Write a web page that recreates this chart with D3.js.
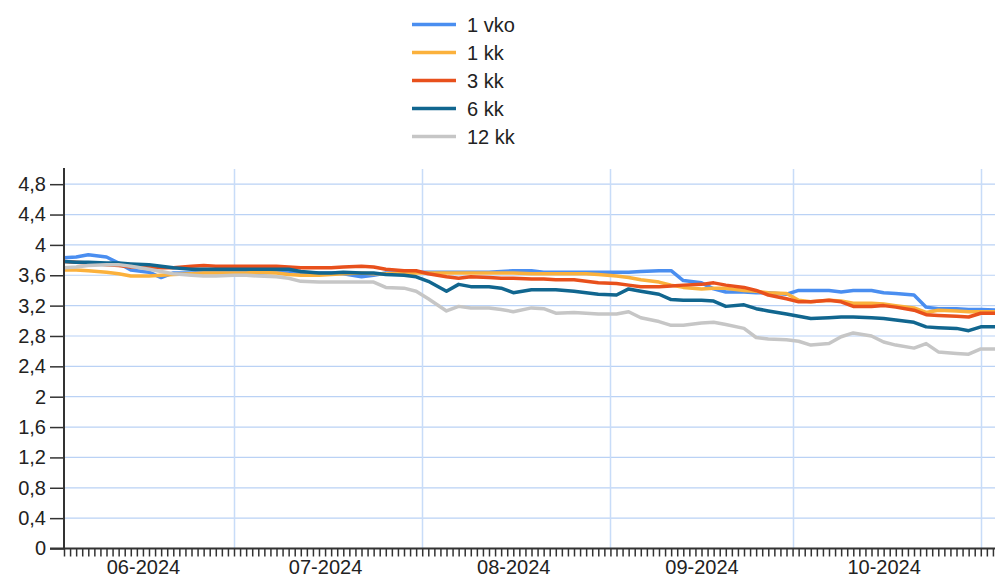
<!DOCTYPE html>
<html>
<head>
<meta charset="utf-8">
<script src="https://cdn.jsdelivr.net/npm/d3@7"></script>
<style>
  html, body { margin: 0; padding: 0; background: #fff; }
  svg { display: block; font-family: "Liberation Sans", Arial, sans-serif; }
</style>
</head>
<body>
<div id="chart"></div>
<script>
// Euribor-korot, päivittäin (luettu kuvasta)
const dates = [
  "2024-06-03","2024-06-05","2024-06-07","2024-06-10","2024-06-12","2024-06-14",
  "2024-06-17","2024-06-19","2024-06-21","2024-06-24","2024-06-26","2024-06-28",
  "2024-07-01","2024-07-03","2024-07-05","2024-07-08","2024-07-10","2024-07-12",
  "2024-07-15","2024-07-17","2024-07-19","2024-07-22","2024-07-24","2024-07-26",
  "2024-07-29","2024-07-31","2024-08-02","2024-08-05","2024-08-07","2024-08-09",
  "2024-08-12","2024-08-14","2024-08-16","2024-08-19","2024-08-21","2024-08-23",
  "2024-08-26","2024-08-28","2024-08-30","2024-09-02","2024-09-04","2024-09-06",
  "2024-09-09","2024-09-11","2024-09-13","2024-09-16","2024-09-18","2024-09-20",
  "2024-09-23","2024-09-25","2024-09-27","2024-09-30","2024-10-02","2024-10-04",
  "2024-10-07","2024-10-09","2024-10-11","2024-10-14","2024-10-16","2024-10-18",
  "2024-10-21","2024-10-23","2024-10-25","2024-10-28","2024-10-30","2024-11-01",
  "2024-11-04"
];

const vko1 = [
  3.83,3.84,3.87,3.84,3.76,3.67,
  3.64,3.57,3.63,3.63,3.64,3.64,
  3.64,3.64,3.63,3.64,3.64,3.63,
  3.63,3.63,3.62,3.58,3.60,3.63,
  3.63,3.64,3.64,3.64,3.64,3.64,
  3.64,3.65,3.66,3.66,3.64,3.64,
  3.64,3.64,3.64,3.64,3.64,3.65,
  3.66,3.66,3.53,3.50,3.42,3.38,
  3.38,3.37,3.37,3.35,3.40,3.40,
  3.40,3.38,3.40,3.40,3.37,3.36,
  3.34,3.18,3.16,3.16,3.15,3.15,
  3.14
];

const kk1 = [
  3.67,3.67,3.66,3.64,3.62,3.59,
  3.59,3.60,3.61,3.62,3.63,3.63,
  3.63,3.63,3.64,3.63,3.61,3.60,
  3.60,3.61,3.62,3.63,3.62,3.62,
  3.62,3.63,3.63,3.63,3.63,3.63,
  3.63,3.63,3.63,3.62,3.62,3.62,
  3.62,3.62,3.61,3.59,3.57,3.54,
  3.51,3.47,3.44,3.42,3.43,3.43,
  3.40,3.39,3.37,3.36,3.27,3.25,
  3.27,3.26,3.23,3.23,3.22,3.20,
  3.17,3.11,3.14,3.13,3.12,3.12,
  3.12
];

const kk3 = [
  3.78,3.77,3.76,3.74,3.73,3.71,
  3.71,3.70,3.70,3.72,3.73,3.72,
  3.72,3.72,3.72,3.72,3.71,3.70,
  3.70,3.70,3.71,3.72,3.71,3.68,
  3.66,3.66,3.62,3.58,3.56,3.58,
  3.57,3.56,3.56,3.55,3.55,3.54,
  3.54,3.52,3.50,3.49,3.47,3.45,
  3.45,3.46,3.47,3.48,3.50,3.47,
  3.44,3.40,3.34,3.29,3.25,3.25,
  3.27,3.25,3.19,3.19,3.20,3.18,
  3.14,3.08,3.07,3.06,3.05,3.10,
  3.10
];

const kk6 = [
  3.78,3.77,3.77,3.76,3.76,3.75,
  3.74,3.72,3.70,3.68,3.68,3.68,
  3.68,3.68,3.68,3.68,3.68,3.65,
  3.63,3.63,3.64,3.63,3.63,3.61,
  3.60,3.58,3.52,3.39,3.48,3.45,
  3.45,3.43,3.37,3.41,3.41,3.41,
  3.39,3.37,3.35,3.34,3.42,3.39,
  3.35,3.28,3.27,3.27,3.26,3.19,
  3.21,3.16,3.13,3.09,3.06,3.03,
  3.04,3.05,3.05,3.04,3.03,3.01,
  2.98,2.92,2.91,2.90,2.87,2.92,
  2.92
];

const kk12 = [
  3.70,3.71,3.73,3.74,3.74,3.72,
  3.68,3.65,3.62,3.60,3.59,3.59,
  3.60,3.60,3.59,3.58,3.56,3.52,
  3.51,3.51,3.51,3.51,3.51,3.44,
  3.43,3.39,3.29,3.13,3.19,3.17,
  3.17,3.15,3.12,3.17,3.16,3.10,
  3.11,3.10,3.09,3.09,3.12,3.04,
  2.99,2.94,2.94,2.97,2.98,2.95,
  2.90,2.78,2.76,2.75,2.73,2.68,
  2.70,2.79,2.84,2.80,2.72,2.68,
  2.64,2.70,2.59,2.57,2.56,2.63,
  2.63
];

const seriesNames = ["1 vko", "1 kk", "3 kk", "6 kk", "12 kk"];
const seriesColors = ["#4a8ef0", "#fbb13c", "#e8501c", "#11668f", "#c6c6c6"];
const yTicks = [0, 0.4, 0.8, 1.2, 1.6, 2, 2.4, 2.8, 3.2, 3.6, 4, 4.4, 4.8];
const monthStarts = ["2024-06-01","2024-07-01","2024-08-01","2024-09-01","2024-10-01","2024-11-01"];

const W = 995, H = 578;
const parse = d3.timeParse("%Y-%m-%d");
const dd = dates.map(parse);
const allSeries = [vko1, kk1, kk3, kk6, kk12];

const plotLeft = 64, plotTop = 169, plotBottom = 548.5;

const x = d3.scaleTime()
  .domain([parse("2024-06-03"), parse("2024-11-04")])
  .range([plotLeft, 999]);
const y = d3.scaleLinear().domain([0, 5]).range([plotBottom, plotTop]);

const fi = d3.formatLocale({ decimal: ",", thousands: " ", grouping: [3], currency: ["", " €"] });

const svg = d3.select("#chart").append("svg")
  .attr("width", W).attr("height", H);

svg.append("defs").append("clipPath").attr("id", "plot")
  .append("rect").attr("x", plotLeft).attr("y", plotTop)
  .attr("width", W - plotLeft).attr("height", plotBottom - plotTop);

// gridlines
const grid = svg.append("g");
grid.selectAll("line.h")
  .data(yTicks.filter(d => d > 0))
  .enter().append("line")
  .attr("x1", plotLeft).attr("x2", W)
  .attr("y1", d => y(d)).attr("y2", d => y(d))
  .attr("stroke", "#bad2f5").attr("stroke-width", 1.2);

grid.selectAll("line.v")
  .data(monthStarts.map(parse).filter(d => d > x.domain()[0]))
  .enter().append("line")
  .attr("x1", d => Math.round(x(d)) + 0.5).attr("x2", d => Math.round(x(d)) + 0.5)
  .attr("y1", plotTop).attr("y2", plotBottom)
  .attr("stroke", "#c8dcf8").attr("stroke-width", 1.5);

// series
const line = d3.line()
  .x((d, i) => x(dd[i]))
  .y(d => y(d));

svg.append("g").attr("clip-path", "url(#plot)")
  .selectAll("path")
  .data(allSeries)
  .enter().append("path")
  .attr("d", d => line(d))
  .attr("fill", "none")
  .attr("stroke", (d, i) => seriesColors[i])
  .attr("stroke-width", 3.5)
  .attr("stroke-linejoin", "round");

// y axis
const yAxis = svg.append("g")
  .attr("transform", "translate(" + plotLeft + ",0)")
  .call(d3.axisLeft(y).tickValues(yTicks).tickSize(14).tickPadding(4).tickFormat(fi.format(".1~f")));
yAxis.select(".domain").attr("d", "M0," + (plotTop - 1) + "V" + plotBottom).attr("stroke", "#333").attr("stroke-width", 2);
yAxis.selectAll(".tick line").attr("stroke", "#333").attr("stroke-width", 1.5);
yAxis.selectAll("text").attr("font-size", 20).attr("fill", "#222").attr("font-family", "Liberation Sans, Arial, sans-serif");

// x axis: daily ticks
const xAxis = svg.append("g")
  .attr("transform", "translate(0," + plotBottom + ")")
  .call(d3.axisBottom(x).ticks(d3.timeDay.every(1)).tickSize(8).tickFormat(""));
xAxis.select(".domain").attr("d", "M" + (plotLeft - 14) + ",0H" + W).attr("stroke", "#333").attr("stroke-width", 2);
xAxis.selectAll(".tick line").attr("stroke", "#333").attr("stroke-width", 1.5);

// month labels at the 16th
const labelDates = monthStarts.slice(0, 5).map(s => d3.timeDay.offset(parse(s), 15));
const xLab = svg.append("g")
  .attr("transform", "translate(0," + plotBottom + ")")
  .call(d3.axisBottom(x).tickValues(labelDates).tickSize(0).tickPadding(11).tickFormat(d3.timeFormat("%m-%Y")));
xLab.select(".domain").remove();
xLab.selectAll("text").attr("font-size", 20).attr("fill", "#222").attr("font-family", "Liberation Sans, Arial, sans-serif");

// legend
const legend = svg.append("g").attr("transform", "translate(412,24.5)");
const li = legend.selectAll("g").data(seriesNames).enter().append("g")
  .attr("transform", (d, i) => "translate(0," + i * 28 + ")");
li.append("line")
  .attr("x1", 0).attr("x2", 44)
  .attr("stroke", (d, i) => seriesColors[i])
  .attr("stroke-width", 3.5);
li.append("text")
  .attr("x", 55).attr("dy", "0.35em")
  .attr("font-size", 20).attr("fill", "#222")
  .text(d => d);
</script>
</body>
</html>
